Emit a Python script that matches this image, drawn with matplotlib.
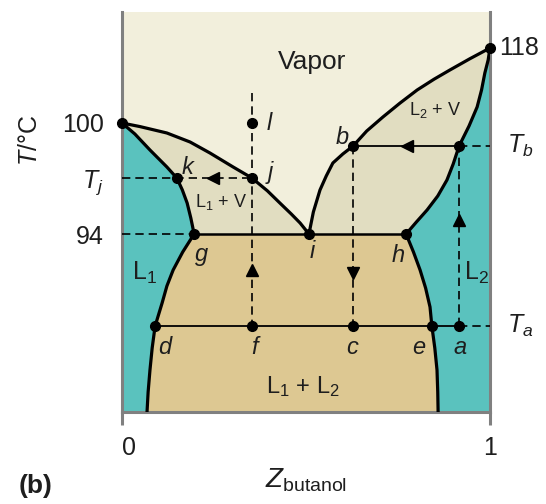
import numpy as np
import matplotlib
matplotlib.use('Agg')
import matplotlib.pyplot as plt

plt.rcParams['font.family'] = 'Liberation Sans'
plt.rcParams['mathtext.fontset'] = 'custom'
plt.rcParams['mathtext.rm'] = 'Liberation Sans'
plt.rcParams['mathtext.it'] = 'Liberation Sans:italic'
plt.rcParams['mathtext.bf'] = 'Liberation Sans:bold'

# 온도축은 개략도(schematic) 높이 0~1 로 둔다
t_100, t_118 = 0.7225, 0.91
t_tb, t_tj, t_94, t_ta = 0.665, 0.585, 0.445, 0.215
t_l_top = 0.7975

# 상경계선 (z_butanol, 높이)
z_left_dew = [0.0, 0.049, 0.122, 0.185, 0.239, 0.302, 0.353, 0.395, 0.429, 0.46, 0.484, 0.508]
t_left_dew = [0.7225, 0.7135, 0.6975, 0.675, 0.6475, 0.6125, 0.585, 0.553, 0.5225, 0.495, 0.4725, 0.445]

z_left_bub = [0.0, 0.035, 0.076, 0.122, 0.149, 0.164, 0.177, 0.187, 0.196]
t_left_bub = [0.7225, 0.695, 0.655, 0.6125, 0.585, 0.555, 0.5225, 0.485, 0.445]

z_left_sol = [0.196, 0.165, 0.139, 0.122, 0.109, 0.090, 0.082, 0.076, 0.071, 0.068]
t_left_sol = [0.445, 0.40, 0.355, 0.315, 0.2725, 0.215, 0.16, 0.105, 0.05, 0.0]

z_right_sol = [0.772, 0.792, 0.810, 0.825, 0.837, 0.842, 0.850, 0.856, 0.858, 0.859]
t_right_sol = [0.445, 0.40, 0.355, 0.31, 0.2625, 0.215, 0.16, 0.105, 0.05, 0.0]

z_right_dew = [0.508, 0.52, 0.538, 0.555, 0.573, 0.60, 0.628, 0.665, 0.709, 0.755, 0.802, 0.848, 0.891, 0.945, 1.0]
t_right_dew = [0.445, 0.50, 0.555, 0.59, 0.6225, 0.645, 0.665, 0.7025, 0.7375, 0.772, 0.805, 0.832, 0.855, 0.883, 0.91]

z_right_bub = [1.0, 0.995, 0.986, 0.977, 0.965, 0.943, 0.916, 0.90, 0.883, 0.858, 0.829, 0.80, 0.772]
t_right_bub = [0.91, 0.88, 0.8475, 0.805, 0.7625, 0.715, 0.665, 0.62, 0.58, 0.54, 0.505, 0.475, 0.445]

# 주요 점들
z_k, z_j, z_g, z_i, z_h, z_b = 0.149, 0.353, 0.196, 0.508, 0.772, 0.628
z_d, z_f, z_c, z_e, z_a = 0.090, 0.353, 0.628, 0.842, 0.916

c_vapor = '#f2efdc'
c_lv = '#e1ddc1'
c_ll = '#ddc892'
c_teal = '#5ac2be'
c_frame = '#808080'
c_text = '#1e1e1e'

fig = plt.figure(figsize=(5.46, 5.04), dpi=100)
ax = fig.add_axes([122/546, 92/504, 368/546, 400/504])
ax.set_xlim(0, 1)
ax.set_ylim(0, 1)
ax.set_facecolor(c_vapor)

# 영역 채우기
ax.fill(np.r_[z_left_bub, z_left_sol[1:], 0], np.r_[t_left_bub, t_left_sol[1:], 0], color=c_teal, lw=0)
ax.fill(np.r_[z_left_bub, z_left_dew[::-1]], np.r_[t_left_bub, t_left_dew[::-1]], color=c_lv, lw=0)
ax.fill(np.r_[z_right_dew, z_right_bub[1:]], np.r_[t_right_dew, t_right_bub[1:]], color=c_lv, lw=0)
ax.fill(np.r_[z_right_bub, z_right_sol[1:], 1], np.r_[t_right_bub, t_right_sol[1:], 0], color=c_teal, lw=0)
ax.fill(np.r_[z_left_sol[::-1], z_right_sol], np.r_[t_left_sol[::-1], t_right_sol], color=c_ll, lw=0)

# 경계선
lw_b = 2.3
for zz, tt in [(z_left_dew, t_left_dew), (z_left_bub, t_left_bub), (z_left_sol, t_left_sol),
               (z_right_sol, t_right_sol), (z_right_dew, t_right_dew), (z_right_bub, t_right_bub)]:
    ax.plot(zz, tt, color='black', lw=lw_b, solid_capstyle='round', solid_joinstyle='round', zorder=3)
ax.plot([z_g, z_h], [t_94, t_94], color='black', lw=1.8, zorder=3)
ax.plot([z_d, z_a], [t_ta, t_ta], color='black', lw=1.3, zorder=3)
ax.plot([z_b, z_a], [t_tb, t_tb], color='black', lw=1.3, zorder=3)

# 점선
dash = dict(color='black', lw=1.2, ls=(0, (5, 3)), zorder=3)
ax.plot([0, z_g], [t_94, t_94], **dash)
ax.plot([0, z_j], [t_tj, t_tj], **dash)
ax.plot([z_f, z_f], [t_l_top, t_ta], **dash)
ax.plot([z_c, z_c], [t_tb, t_ta], **dash)
ax.plot([z_a, z_a], [t_ta, t_tb], **dash)
ax.plot([z_a, 1], [t_tb, t_tb], **dash)
ax.plot([z_a, 1], [t_ta, t_ta], **dash)

# 화살표
arr = dict(color='black', ms=9, ls='none', zorder=4)
ax.plot([0.248], [t_tj], marker='<', **arr)
ax.plot([0.774], [t_tb], marker='<', **arr)
ax.plot([z_f], [0.355], marker='^', **arr)
ax.plot([z_c], [0.3475], marker='v', **arr)
ax.plot([z_a], [0.48], marker='^', **arr)

# 점
pts_z = [0, 1, z_f, z_j, z_k, z_g, z_i, z_h, z_b, z_a, z_d, z_f, z_c, z_e, z_a]
pts_t = [t_100, t_118, t_100, t_tj, t_tj, t_94, t_94, t_94, t_tb, t_tb, t_ta, t_ta, t_ta, t_ta, t_ta]
ax.plot(pts_z, pts_t, 'o', color='black', ms=7, zorder=6, clip_on=False)

# 점 이름
it = dict(fontsize=17, style='italic', ha='center', va='center', color=c_text, zorder=7)
for s, x, y in [('k', 0.177, 0.6125), ('j', 0.404, 0.60), ('l', 0.40, 0.7225), ('b', 0.598, 0.6875),
                ('g', 0.217, 0.3925), ('i', 0.516, 0.40), ('h', 0.75, 0.3925),
                ('d', 0.117, 0.1625), ('f', 0.359, 0.1625), ('c', 0.625, 0.1625),
                ('e', 0.807, 0.1625), ('a', 0.918, 0.1625)]:
    ax.text(x, y, s, **it)

# 영역 이름
ax.text(0.516, 0.875, 'Vapor', fontsize=19, ha='center', va='center', color=c_text)
ax.text(0.0625, 0.3475, r'L$_1$', fontsize=18, ha='center', va='center', color=c_text)
ax.text(0.962, 0.3475, r'L$_2$', fontsize=18, ha='center', va='center', color=c_text)
ax.text(0.492, 0.0625, r'L$_1$ + L$_2$', fontsize=17, ha='center', va='center', color=c_text)
ax.text(0.268, 0.525, r'L$_1$ + V', fontsize=13, ha='center', va='center', color=c_text)
ax.text(0.851, 0.755, r'L$_2$ + V', fontsize=13, ha='center', va='center', color=c_text)

# 축
for side in ['left', 'right', 'bottom']:
    ax.spines[side].set_color(c_frame)
    ax.spines[side].set_linewidth(2.2)
ax.spines['top'].set_visible(False)

ax.set_xticks([0, 1])
ax.set_xticklabels(['0', '1'], fontsize=18, color=c_text)
ax.tick_params(axis='x', direction='out', length=9.5, width=2.2, color=c_frame, pad=8)
ax.get_xticklabels()[0].set_horizontalalignment('left')

ax.set_yticks([t_100, t_tj, t_94])
ax.set_yticklabels(['100', r'$T_j$', '94'], fontsize=18, color=c_text)
ax.tick_params(axis='y', length=0, pad=13)

for s, x, y in [('118', 1.026, t_118), (r'$T_b$', 1.046, t_tb), (r'$T_a$', 1.046, t_ta)]:
    ax.text(x, y, s, fontsize=18, ha='left', va='center', color=c_text, clip_on=False)

fig.text(30/546, 1 - 140/504, r'$T$/°C', rotation=90, fontsize=18, ha='center', va='center', color=c_text)
fig.text(306/546, 1 - 480/504, r'$Z_{\mathrm{butanol}}$', fontsize=20, ha='center', va='center', color=c_text)
fig.text(36/546, 1 - 486/504, '(b)', fontsize=19, fontweight='bold', ha='center', va='center', color=c_text)

fig.savefig('out.png', dpi=100)
